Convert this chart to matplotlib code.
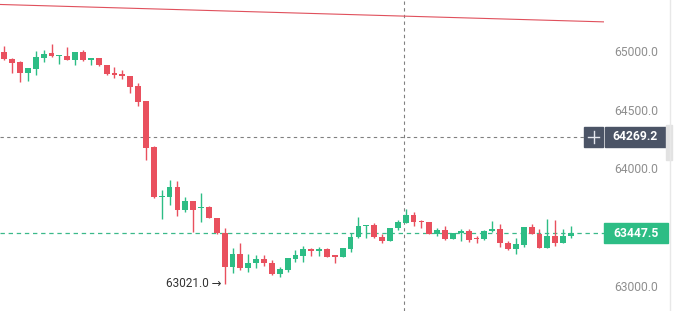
import matplotlib
matplotlib.use("Agg")
import matplotlib.pyplot as plt
from matplotlib.patches import Rectangle
from matplotlib.lines import Line2D
from matplotlib.transforms import blended_transform_factory
from matplotlib.ticker import FormatStrFormatter

# candle data (one candle per slot)
opens = [64990, 64930, 64900, 64807, 64848, 64941, 64977, 64951, 64956, 64922,
         64990, 64919, 64939, 64879, 64807, 64798, 64786, 64701, 64573, 64182,
         63757, 63759, 63842, 63650, 63720, 63659, 63674, 63576, 63448, 63164,
         63272, 63153, 63193, 63227, 63198, 63102, 63136, 63230, 63255, 63312,
         63298, 63312, 63261, 63249, 63312, 63414, 63510, 63519, 63414, 63385,
         63491, 63538, 63604, 63555, 63544, 63446, 63474, 63402, 63453, 63468,
         63406, 63397, 63465, 63482, 63368, 63312, 63349, 63499, 63442, 63327,
         63425, 63368, 63425]
closes = [64926, 64892, 64807, 64854, 64947, 64973, 64951, 64964, 64920, 64990,
          64917, 64939, 64875, 64798, 64790, 64781, 64695, 64567, 64176, 63754,
          63765, 63842, 63650, 63720, 63646, 63669, 63576, 63448, 63164, 63272,
          63153, 63198, 63227, 63193, 63102, 63142, 63236, 63264, 63312, 63298,
          63312, 63249, 63249, 63321, 63414, 63506, 63516, 63414, 63385, 63491,
          63542, 63604, 63547, 63544, 63445, 63474, 63401, 63451, 63465, 63394,
          63397, 63465, 63482, 63363, 63312, 63355, 63499, 63442, 63327, 63425,
          63368, 63425, 63447.5]
highs = [65036, 64935, 64913, 64856, 64998, 65004, 65058, 64966, 65032, 64992,
         65002, 64941, 64942, 64881, 64860, 64837, 64788, 64724, 64575, 64190,
         63816, 63901, 63893, 63757, 63722, 63791, 63676, 63578, 63489, 63327,
         63363, 63268, 63264, 63264, 63221, 63162, 63240, 63306, 63338, 63326,
         63332, 63326, 63263, 63323, 63448, 63589, 63518, 63533, 63440, 63493,
         63561, 63655, 63632, 63557, 63547, 63497, 63510, 63453, 63487, 63483,
         63425, 63476, 63553, 63526, 63383, 63406, 63501, 63530, 63483, 63567,
         63559, 63485, 63506]
lows = [64920, 64814, 64730, 64743, 64794, 64902, 64948, 64890, 64918, 64877,
        64915, 64881, 64872, 64796, 64764, 64763, 64641, 64533, 64069, 63752,
        63567, 63689, 63591, 63625, 63462, 63548, 63574, 63446, 63021, 63113,
        63136, 63122, 63153, 63170, 63094, 63074, 63119, 63207, 63207, 63255,
        63255, 63247, 63193, 63247, 63292, 63412, 63406, 63412, 63368, 63383,
        63476, 63536, 63514, 63491, 63438, 63423, 63391, 63400, 63384, 63372,
        63363, 63395, 63463, 63334, 63310, 63270, 63334, 63440, 63325, 63325,
        63338, 63366, 63406]

price_ticks = [63000, 63500, 64000, 64500, 65000]
trend_x = [-0.55, 76.2]
trend_y = [65393, 65245]
cross_x = 50.8
cross_price = 64269.2
last_price = 63447.5
low_index = 28
low_price = 63021.0

GREEN = "#2dbd85"
RED = "#e9505e"
DARK = "#4b5466"

plt.rcParams["font.family"] = ["Roboto", "DejaVu Sans"]

fig = plt.figure(figsize=(6.81, 3.11), dpi=100)
ax = fig.add_axes([0, 0, 604 / 681, 1])

xs = list(range(len(opens)))
colors = [GREEN if c >= o else RED for o, c in zip(opens, closes)]
bottoms = [min(o, c) for o, c in zip(opens, closes)]
heights = [max(abs(c - o), 12) for o, c in zip(opens, closes)]

ax.vlines(xs, lows, highs, colors=colors, lw=1.0, zorder=2)
ax.bar(xs, heights, bottom=bottoms, width=0.74, color=colors, zorder=3)

# trend line
ax.plot(trend_x, trend_y, color="#e0505c", lw=0.8, zorder=2)

# crosshair + last price line
ax.axvline(cross_x, color="#808080", lw=0.8, ls=(0, (3, 3)), zorder=1)
ax.axhline(cross_price, xmax=0.967, color="#808080", lw=0.8, ls=(0, (3, 3)), zorder=1)
ax.axhline(last_price, color="#3bb98a", lw=0.9, ls=(0, (3.5, 3)), zorder=1)

# low marker
ax.annotate(f"{low_price:.1f} \u2192", xy=(low_index, low_price), xytext=(-2, 0),
            textcoords="offset points", ha="right", va="center",
            fontsize=8.5, color="#333333")

ax.set_xlim(-0.546, 76.2)
ax.set_ylim(62787.5, 65431)
ax.set_xticks([])
ax.yaxis.tick_right()
ax.set_yticks(price_ticks)
ax.yaxis.set_major_formatter(FormatStrFormatter("%.1f"))
ax.tick_params(axis="y", length=0, pad=7.5, labelsize=8.7, labelcolor="#8f8f8f")
for s in ax.spines.values():
    s.set_visible(False)

# price boxes on the axis (the 63500 label sits under the green box, as in the source)
trans = blended_transform_factory(ax.transAxes, ax.transData)
box_h = 168
ax.add_patch(Rectangle((1.0, last_price - box_h / 2), 0.106, box_h, transform=trans,
                       color=GREEN, clip_on=False, zorder=5))
ax.text(1.053, last_price, f"{last_price:.1f}", transform=trans, ha="center", va="center",
        color="white", fontsize=8.7, fontweight="bold", zorder=6, clip_on=False)

ax.add_patch(Rectangle((1.0015, cross_price - box_h / 2), 0.101, box_h, transform=trans,
                       color=DARK, clip_on=False, zorder=5))
ax.add_patch(Rectangle((0.967, cross_price - box_h / 2), 0.0315, box_h, transform=trans,
                       color=DARK, clip_on=False, zorder=5))
ax.text(1.052, cross_price, f"{cross_price:.1f}", transform=trans, ha="center", va="center",
        color="white", fontsize=8.7, fontweight="bold", zorder=6, clip_on=False)
# plus sign drawn as two thin strokes
px, py = 0.9828, cross_price
ax.plot([px - 0.0095, px + 0.0095], [py, py], transform=trans, color="#e4e7ee",
        lw=1.0, zorder=6, clip_on=False)
ax.plot([px, px], [py - 52, py + 52], transform=trans, color="#e4e7ee",
        lw=1.0, zorder=6, clip_on=False)

# right side panel edge and handle
fig.add_artist(Line2D([670 / 681] * 2, [0, 1], transform=fig.transFigure,
                      color="#e8e8e8", lw=1))
fig.add_artist(Rectangle((666 / 681, (311 - 160) / 311), 6 / 681, 35 / 311,
                         transform=fig.transFigure, color="#e2e2e2"))

fig.savefig("out.png", dpi=100)
